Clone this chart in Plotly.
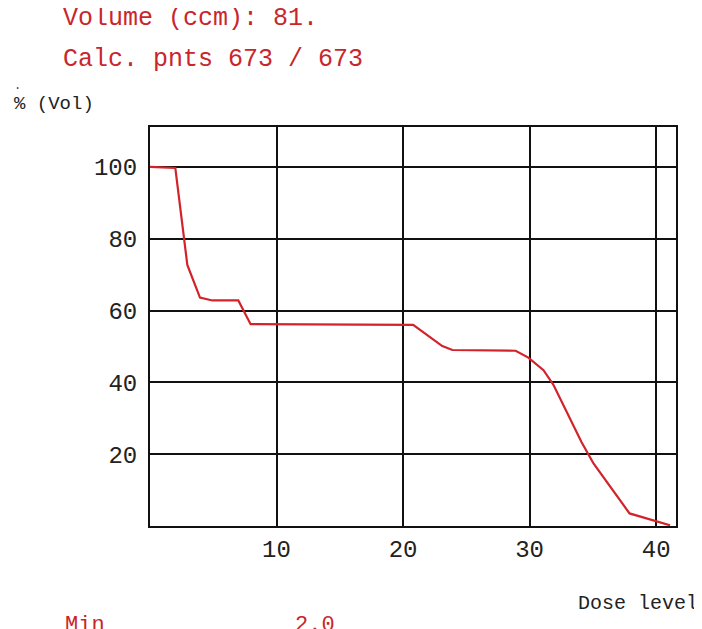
import plotly.graph_objects as go

# Dose-volume histogram
dose = [0, 2.0, 2.95, 3.95, 4.93, 6.98, 7.95, 20.8, 23.1, 23.9, 28.9, 29.9, 31.1, 31.9, 34.1, 35.05, 37.9, 41.1]
volume_pct = [100, 99.7, 72.7, 63.6, 62.8, 62.8, 56.2, 56.0, 50.1, 49.0, 48.8, 46.9, 43.4, 39.2, 23.4, 17.4, 3.5, 0.2]

x_ticks = [10, 20, 30, 40]
y_ticks = [20, 40, 60, 80, 100]

title_lines = ["Volume (ccm): 81.", "Calc. pnts 673 / 673"]
y_label = "% (Vol)"
x_label = "Dose level"
min_label = "Min"
min_value = "2.0"

OFF = 8  # page body margin
W, H = 702 - OFF, 629 - OFF
L, R, T, B = 150 - OFF, 676 - OFF, 127 - OFF, 526 - OFF

def px(x):
    return (x - OFF - L) / (R - L)

def py(y):
    return (B - (y - OFF)) / (B - T)

FONT = "Liberation Mono, Courier New, monospace"
RED = "#d2232a"
TXT_RED = "#c9262b"

fig = go.Figure()
fig.add_trace(go.Scatter(x=dose, y=volume_pct, mode="lines",
                         line=dict(color=RED, width=2.2), hoverinfo="skip"))

axis_common = dict(showgrid=True, gridcolor="#111111", gridwidth=2,
                   showline=True, linecolor="#111111", linewidth=2, mirror=True,
                   zeroline=False, ticks="", tickfont=dict(family=FONT, size=24, color="#222222"))

fig.update_xaxes(range=[0, 41.57], tickvals=x_ticks, ticktext=[str(v) for v in x_ticks],
                 ticklabelstandoff=0, **axis_common)
fig.update_yaxes(range=[0, 111.1], tickvals=y_ticks, ticktext=[str(v) for v in y_ticks],
                 ticklabelstandoff=6, **axis_common)

annotations = [
    dict(text=title_lines[0], x=px(61), y=py(18), xanchor="left", yanchor="middle",
         font=dict(family=FONT, size=25, color=TXT_RED)),
    dict(text=title_lines[1], x=px(61), y=py(60), xanchor="left", yanchor="middle",
         font=dict(family=FONT, size=25, color=TXT_RED)),
    dict(text=y_label, x=px(12), y=py(104), xanchor="left", yanchor="middle",
         font=dict(family=FONT, size=19, color="#222222")),
    dict(text=".", x=px(12), y=py(86), xanchor="left", yanchor="middle",
         font=dict(family=FONT, size=12, color="#444444")),
    dict(text=x_label, x=px(576), y=py(603), xanchor="left", yanchor="middle",
         font=dict(family=FONT, size=20, color="#222222")),
    dict(text=min_label, x=px(63), y=py(611), xanchor="left", yanchor="top",
         font=dict(family=FONT, size=22, color=TXT_RED)),
    dict(text=min_value, x=px(293), y=py(611), xanchor="left", yanchor="top",
         font=dict(family=FONT, size=22, color=TXT_RED)),
]
for a in annotations:
    a.update(xref="paper", yref="paper", showarrow=False)

fig.update_layout(width=W, height=H,
                  margin=dict(l=L, r=W - R, t=T, b=H - B),
                  plot_bgcolor="white", paper_bgcolor="white",
                  showlegend=False, annotations=annotations)

fig.write_html("out.html")
